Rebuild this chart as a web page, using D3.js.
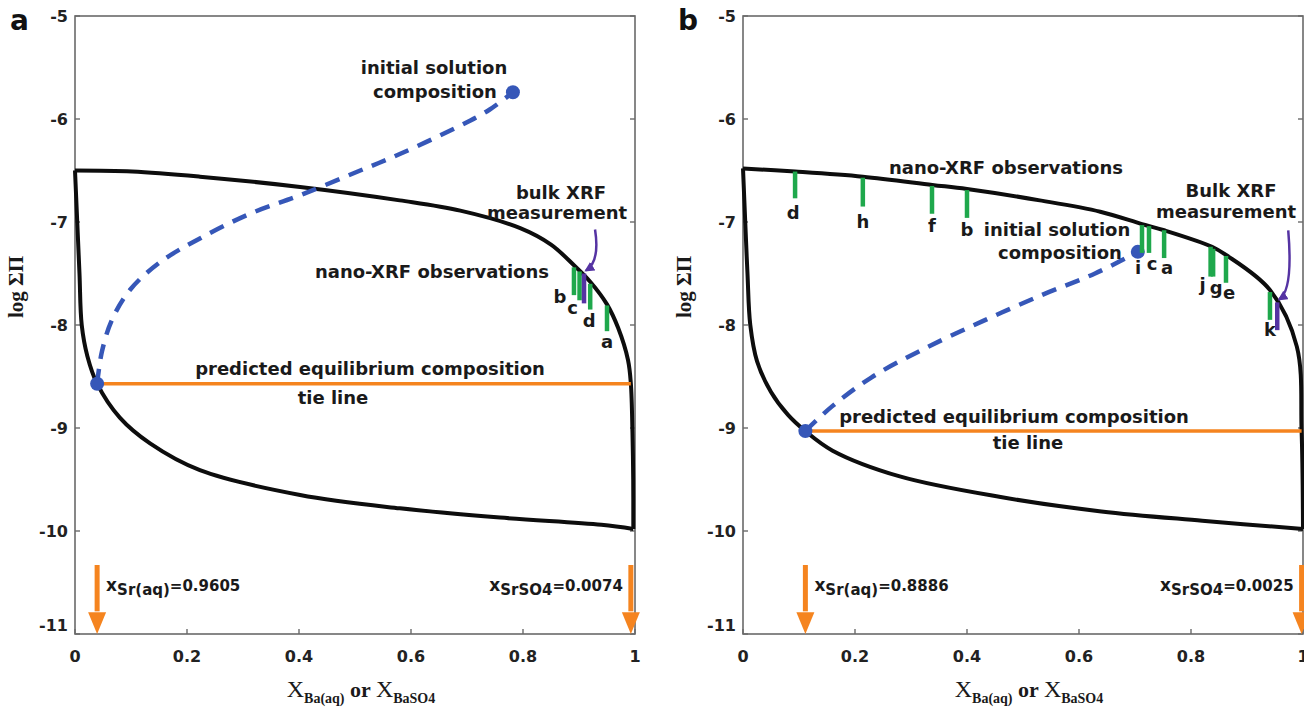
<!DOCTYPE html>
<html>
<head>
<meta charset="utf-8">
<script src="https://cdn.jsdelivr.net/npm/d3@7"></script>
<style>
	body { margin: 0; background: #fff; }
	svg { display: block; font-family: "DejaVu Sans", Verdana, sans-serif; }
	.tick-label { font-size: 16px; font-weight: bold; fill: #222; }
	.note { font-size: 18px; font-weight: bold; fill: #1a1a1a; }
	.bar-label { font-size: 18px; font-weight: bold; fill: #1a1a1a; }
	.serif { font-family: "Liberation Serif", "DejaVu Serif", serif; fill: #1a1a1a; }
	.panel-letter { font-size: 28px; font-weight: bold; fill: #111; }
</style>
</head>
<body>
<svg id="chart" width="1304" height="709"></svg>
<script>

////////////////////////////////////////////////////////////
//////////////////////// Data //////////////////////////////
////////////////////////////////////////////////////////////

var yTicks = [-5, -6, -7, -8, -9, -10, -11];
var xTicks = [0, 0.2, 0.4, 0.6, 0.8, 1];
var xTickLabels = ["0", "0.2", "0.4", "0.6", "0.8", "1"];

//Panel a: [X_Ba, log ΣΠ]
var upperA = [[0,-6.50],[0.102,-6.51],[0.223,-6.56],[0.402,-6.66],[0.580,-6.79],[0.688,-6.89],[0.795,-7.06],
	[0.85,-7.22],[0.891,-7.42],[0.920,-7.58],[0.950,-7.80],[0.970,-8.03],[0.9875,-8.34],[0.9926,-8.57],
	[0.9955,-9.05],[0.9968,-9.5],[0.997,-9.98]];
var lowerA = [[0,-6.50],[0.004,-7.0],[0.008,-7.5],[0.012,-8.0],[0.022,-8.3],[0.0395,-8.57],[0.08,-8.9],
	[0.134,-9.15],[0.223,-9.41],[0.402,-9.65],[0.58,-9.78],[0.759,-9.87],[0.94,-9.94],[0.997,-9.98]];
var pathA = [[0.0395,-8.57],[0.048,-8.26],[0.066,-7.95],[0.098,-7.66],[0.152,-7.39],[0.223,-7.16],
	[0.3125,-6.92],[0.402,-6.74],[0.505,-6.51],[0.580,-6.34],[0.682,-6.08],[0.74,-5.91],[0.782,-5.74]];
var initialA = [0.782, -5.74];
var xSrAqA = 0.9605, xSrSO4A = 0.0074, tieLogA = -8.57;
var nanoA = ["b", "c", "d", "a"];
var nanoXA = [0.891, 0.901, 0.920, 0.950];
var nanoTopA = [-7.44, -7.48, -7.60, -7.81];
var nanoBotA = [-7.71, -7.76, -7.85, -8.06];
var bulkA = [0.909, -7.50, -7.79];

//Panel b
var upperB = [[0,-6.48],[0.093,-6.51],[0.214,-6.56],[0.338,-6.64],[0.40,-6.68],[0.53,-6.79],[0.638,-6.90],
	[0.7125,-7.02],[0.752,-7.08],[0.8375,-7.24],[0.8625,-7.32],[0.941,-7.66],[0.989,-8.21],[0.9975,-9.03],[1.0,-9.98]];
var lowerB = [[0,-6.48],[0.004,-7.0],[0.008,-7.5],[0.013,-8.0],[0.025,-8.35],[0.05,-8.65],[0.08,-8.87],
	[0.1114,-9.03],[0.16,-9.22],[0.28,-9.47],[0.46,-9.67],[0.64,-9.81],[0.82,-9.9],[1.0,-9.98]];
var pathB = [[0.1114,-9.03],[0.159,-8.79],[0.229,-8.51],[0.32,-8.24],[0.429,-7.96],[0.5375,-7.70],
	[0.6286,-7.50],[0.705,-7.29]];
var initialB = [0.705, -7.29];
var xSrAqB = 0.8886, xSrSO4B = 0.0025, tieLogB = -9.03;
var nanoB = ["d", "h", "f", "b", "i", "c", "a", "j", "g", "e", "k"];
var nanoXB = [0.093, 0.214, 0.3375, 0.40, 0.7125, 0.725, 0.752, 0.835, 0.8395, 0.8625, 0.941];
var nanoTopB = [-6.51, -6.57, -6.65, -6.69, -7.03, -7.04, -7.08, -7.24, -7.26, -7.33, -7.68];
var nanoBotB = [-6.77, -6.85, -6.92, -6.96, -7.30, -7.30, -7.35, -7.53, -7.53, -7.59, -7.95];
var bulkB = [0.954, -7.78, -8.05];

////////////////////////////////////////////////////////////
///////////////////// Set-up ///////////////////////////////
////////////////////////////////////////////////////////////

var svg = d3.select("#chart");

var colBlack = "#0d0d0d",
	colOrange = "#f5841f",
	colBlue = "#3657b8",
	colGreen = "#1fa84c",
	colPurple = "#5533a3",
	colFrame = "#6a6a6a";

var defs = svg.append("defs");
defs.append("marker")
	.attr("id", "purple-head")
	.attr("viewBox", "0 0 10 10")
	.attr("refX", 8).attr("refY", 5)
	.attr("markerWidth", 4).attr("markerHeight", 4)
	.attr("orient", "auto")
	.append("path")
	.attr("d", "M0,0L10,5L0,10Z")
	.style("fill", colPurple);

function drawPanel(p) {

	var x = d3.scaleLinear().domain([0, 1]).range([p.left, p.left + 560]);
	var y = d3.scaleLinear().domain([-11, -5]).range([634, 16]);

	var g = svg.append("g").attr("class", "panel");

	var line = d3.line()
		.x(function(d) { return x(d[0]); })
		.y(function(d) { return y(d[1]); })
		.curve(d3.curveCatmullRom.alpha(0.5));

	//Frame
	g.append("rect")
		.attr("x", x(0)).attr("y", y(-5))
		.attr("width", x(1) - x(0)).attr("height", y(-11) - y(-5))
		.style("fill", "none").style("stroke", colFrame).style("stroke-width", 1.6);

	//Inner ticks
	g.selectAll(".ytick-l").data(yTicks).enter().append("line")
		.attr("x1", x(0)).attr("x2", x(0) + 5)
		.attr("y1", function(d) { return y(d); }).attr("y2", function(d) { return y(d); })
		.style("stroke", colFrame).style("stroke-width", 1.4);
	g.selectAll(".ytick-r").data(yTicks).enter().append("line")
		.attr("x1", x(1)).attr("x2", x(1) - 5)
		.attr("y1", function(d) { return y(d); }).attr("y2", function(d) { return y(d); })
		.style("stroke", colFrame).style("stroke-width", 1.4);
	g.selectAll(".xtick").data(xTicks).enter().append("line")
		.attr("x1", function(d) { return x(d); }).attr("x2", function(d) { return x(d); })
		.attr("y1", y(-11)).attr("y2", y(-11) - 5)
		.style("stroke", colFrame).style("stroke-width", 1.4);

	//Tick labels
	g.selectAll(".ylab").data(yTicks).enter().append("text")
		.attr("class", "tick-label")
		.attr("x", x(0) - 7)
		.attr("y", function(d) { return y(d) + (d === -11 ? -3 : 6); })
		.attr("text-anchor", "end")
		.text(function(d) { return d; });
	g.selectAll(".xlab").data(xTicks).enter().append("text")
		.attr("class", "tick-label")
		.attr("x", function(d) { return x(d); })
		.attr("y", y(-11) + 28)
		.attr("text-anchor", "middle")
		.text(function(d, i) { return xTickLabels[i]; });

	//Axis titles
	g.append("text")
		.attr("class", "serif")
		.attr("transform", "translate(" + (p.left - 52) + "," + 287 + ")rotate(-90)")
		.attr("text-anchor", "middle")
		.style("font-size", "21px").style("font-weight", "bold")
		.text("log ΣΠ");

	var xt = g.append("text")
		.attr("class", "serif")
		.attr("x", x(0.5) + 6).attr("y", 697)
		.attr("text-anchor", "middle")
		.style("font-weight", "bold");
	xt.append("tspan").style("font-size", "24px").style("font-weight", "normal").text("X");
	xt.append("tspan").style("font-size", "14px").attr("dy", 6).text("Ba(aq)");
	xt.append("tspan").style("font-size", "22px").attr("dy", -6).text(" or ");
	xt.append("tspan").style("font-size", "24px").style("font-weight", "normal").text("X");
	xt.append("tspan").style("font-size", "14px").attr("dy", 6).text("BaSO4");

	//Panel letter
	g.append("text").attr("class", "panel-letter")
		.attr("x", p.left - 65).attr("y", 30).text(p.letter);

	//Lippmann curves
	g.append("path").attr("d", line(p.upper))
		.style("fill", "none").style("stroke", colBlack).style("stroke-width", 4);
	g.append("path").attr("d", line(p.lower))
		.style("fill", "none").style("stroke", colBlack).style("stroke-width", 4);

	//Tie line
	var xAq = 1 - p.xSrAq, xSolid = 1 - p.xSrSO4;
	g.append("line")
		.attr("x1", x(xAq)).attr("x2", x(xSolid))
		.attr("y1", y(p.tieLog)).attr("y2", y(p.tieLog))
		.style("stroke", colOrange).style("stroke-width", 3.5);

	//Reaction path
	g.append("path").attr("d", line(p.path))
		.style("fill", "none").style("stroke", colBlue)
		.style("stroke-width", 4.5).style("stroke-dasharray", "15,10");

	g.selectAll(".dot").data([p.path[0], p.initial]).enter().append("circle")
		.attr("cx", function(d) { return x(d[0]); })
		.attr("cy", function(d) { return y(d[1]); })
		.attr("r", 7)
		.style("fill", colBlue);

	//Nano-XRF bars
	p.nano.forEach(function(id, i) {
		g.append("line")
			.attr("x1", x(p.nanoX[i])).attr("x2", x(p.nanoX[i]))
			.attr("y1", y(p.nanoTop[i])).attr("y2", y(p.nanoBot[i]))
			.style("stroke", colGreen).style("stroke-width", 4.5);
		g.append("text").attr("class", "bar-label")
			.attr("x", x(p.nanoX[i]) + p.labelOff[i][0])
			.attr("y", y(p.nanoBot[i]) + p.labelOff[i][1])
			.attr("text-anchor", "middle")
			.text(id);
	});

	//Bulk bar
	g.append("line")
		.attr("x1", x(p.bulk[0])).attr("x2", x(p.bulk[0]))
		.attr("y1", y(p.bulk[1])).attr("y2", y(p.bulk[2]))
		.style("stroke", colPurple).style("stroke-width", 4.5);

	//Bulk arrow
	var bx = x(p.bulk[0]), by = y(p.bulk[1]);
	g.append("path")
		.attr("d", "M" + (bx + p.bulkArrow[0]) + "," + (by + p.bulkArrow[1]) +
			"Q" + (bx + p.bulkArrow[0] + 5) + "," + (by - 12) + " " + (bx + 2) + "," + (by - 3))
		.style("fill", "none").style("stroke", colPurple).style("stroke-width", 2.5)
		.attr("marker-end", "url(#purple-head)");

	//Orange arrows at the bottom
	[xAq, xSolid].forEach(function(v) {
		var ax = x(v);
		g.append("line")
			.attr("x1", ax).attr("x2", ax)
			.attr("y1", y(-10.33)).attr("y2", y(-10.78))
			.style("stroke", colOrange).style("stroke-width", 5);
		g.append("path")
			.attr("d", "M" + (ax - 9) + "," + y(-10.79) + "L" + (ax + 9) + "," + y(-10.79) + "L" + ax + "," + y(-11) + "Z")
			.style("fill", colOrange);
	});

	//Mole-fraction labels
	var tl = g.append("text").attr("class", "note").style("font-size", "15px")
		.attr("x", x(xAq) + 9).attr("y", 591);
	tl.append("tspan").style("font-size", "17px").text("x");
	tl.append("tspan").attr("dy", 4).text("Sr(aq)");
	tl.append("tspan").attr("dy", -4).text("=" + p.xSrAq.toFixed(4));

	var tr = g.append("text").attr("class", "note").style("font-size", "15px")
		.attr("x", x(xSolid) - 8).attr("y", 591).attr("text-anchor", "end");
	tr.append("tspan").style("font-size", "17px").text("x");
	tr.append("tspan").attr("dy", 4).text("SrSO4");
	tr.append("tspan").attr("dy", -4).text("=" + p.xSrSO4.toFixed(4));

	//Annotations
	p.notes.forEach(function(n) {
		g.append("text").attr("class", "note")
			.attr("x", p.left + n[1]).attr("y", n[2])
			.attr("text-anchor", "middle")
			.text(n[0]);
	});
}

drawPanel({
	letter: "a", left: 75,
	upper: upperA, lower: lowerA, path: pathA, initial: initialA,
	xSrAq: xSrAqA, xSrSO4: xSrSO4A, tieLog: tieLogA,
	nano: nanoA, nanoX: nanoXA, nanoTop: nanoTopA, nanoBot: nanoBotA,
	labelOff: [[-14, 8], [-7, 14], [-1, 17], [0, 17]],
	bulk: bulkA, bulkArrow: [11, -44],
	notes: [
		["initial solution", 359, 74],
		["composition", 360, 98],
		["nano-XRF observations", 357, 278],
		["bulk XRF", 486, 199],
		["measurement", 482, 219],
		["predicted equilibrium composition", 295, 375],
		["tie line", 258, 404]
	]
});

drawPanel({
	letter: "b", left: 743,
	upper: upperB, lower: lowerB, path: pathB, initial: initialB,
	xSrAq: xSrAqB, xSrSO4: xSrSO4B, tieLog: tieLogB,
	nano: nanoB, nanoX: nanoXB, nanoTop: nanoTopB, nanoBot: nanoBotB,
	labelOff: [[-2, 21], [0, 21], [0, 18], [0, 18], [-4, 21], [3, 17], [3, 16], [-8, 14], [3, 17], [3, 16], [0, 16]],
	bulk: bulkB, bulkArrow: [11, -72],
	notes: [
		["nano-XRF observations", 263, 174],
		["initial solution", 314, 236],
		["composition", 317, 259],
		["Bulk XRF", 488, 197],
		["measurement", 483, 218],
		["predicted equilibrium composition", 271, 423],
		["tie line", 285, 449]
	]
});

</script>
</body>
</html>
